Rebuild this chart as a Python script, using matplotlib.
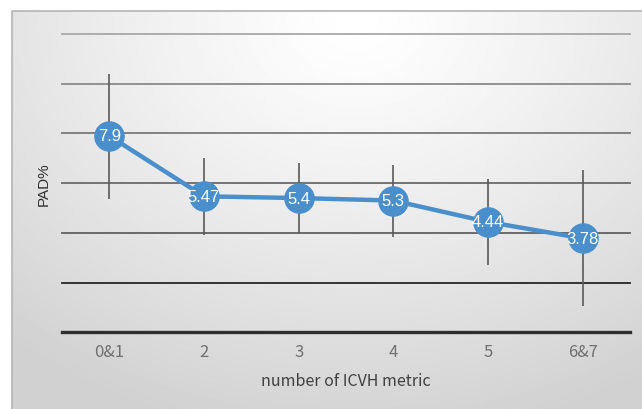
import matplotlib.pyplot as plt
import numpy as np

# data
categories = ['0&1', '2', '3', '4', '5', '6&7']
pad = [7.9, 5.47, 5.4, 5.3, 4.44, 3.78]
err_low = [2.53, 1.55, 1.40, 1.45, 1.72, 2.73]
err_high = [2.50, 1.54, 1.41, 1.44, 1.73, 2.74]
grid_levels = [0, 2, 4, 6, 8, 10, 12]

W, H = 642, 410
fig = plt.figure(figsize=(W / 100, H / 100), dpi=100)

# background: radial grey gradient inside a thin frame
bg = fig.add_axes([0, 0, 1, 1], zorder=0)
bg.set_xlim(0, W)
bg.set_ylim(H, 0)
bg.axis('off')
yy, xx = np.mgrid[0:H, 0:W]
r = np.sqrt(((xx - 350) / 540.0) ** 2 + ((yy - 10) / 430.0) ** 2)
shade = 1.0 - 0.18 * np.clip(r, 0, 1) ** 1.2
bg.imshow(shade, cmap='gray', vmin=0, vmax=1, extent=(12, W, H, 12),
          aspect='auto', interpolation='bilinear')
bg.plot([12, 12, W], [H, 12, 12], color='#b4b4b4', lw=1.2)

ax = fig.add_axes([62 / W, 1 - 333.3 / H, (630 - 62) / W, (333.3 - 35) / H],
                  zorder=1)
ax.patch.set_alpha(0)
for s in ax.spines.values():
    s.set_visible(False)

x = np.arange(len(categories))
ax.set_xlim(-0.5, len(categories) - 0.5)
ax.set_ylim(0, 12)

grid_colors = {0: '#2e2e2e', 2: '#262626', 4: '#606060', 6: '#6a6a6a',
               8: '#7a7a7a', 10: '#8a8a8a', 12: '#a8a8a8'}
for g in grid_levels:
    ax.axhline(g, color=grid_colors[g], lw=2.4 if g == 0 else 1.3,
               zorder=1, clip_on=False)

ax.errorbar(x, pad, yerr=[err_low, err_high], fmt='none', ecolor='#5a5a5a',
            elinewidth=1.2, capsize=0, zorder=2)
ax.plot(x, pad, color='#4a8fcc', lw=3.2, marker='o', markersize=21,
        markerfacecolor='#4a8fcc', markeredgecolor='#4a8fcc', zorder=3)

for xi, v in zip(x, pad):
    ax.text(xi, v, f'{v:g}', ha='center', va='center', color='white',
            fontsize=12, family='Liberation Sans', zorder=4)

cjk = 'Noto Sans CJK SC'
ax.set_yticks([])
ax.set_xticks(x)
ax.set_xticklabels(categories, fontsize=12, color='#707070',
                   family=cjk, fontweight='light')
ax.tick_params(axis='x', length=0, pad=8)
ax.set_xlabel('number of ICVH metric', fontsize=11.5, color='#404040',
              family=cjk, labelpad=8)
ax.set_ylabel('PAD%', fontsize=11, color='#303030', family='Liberation Sans',
              labelpad=8)

fig.savefig('out.png', dpi=100)
